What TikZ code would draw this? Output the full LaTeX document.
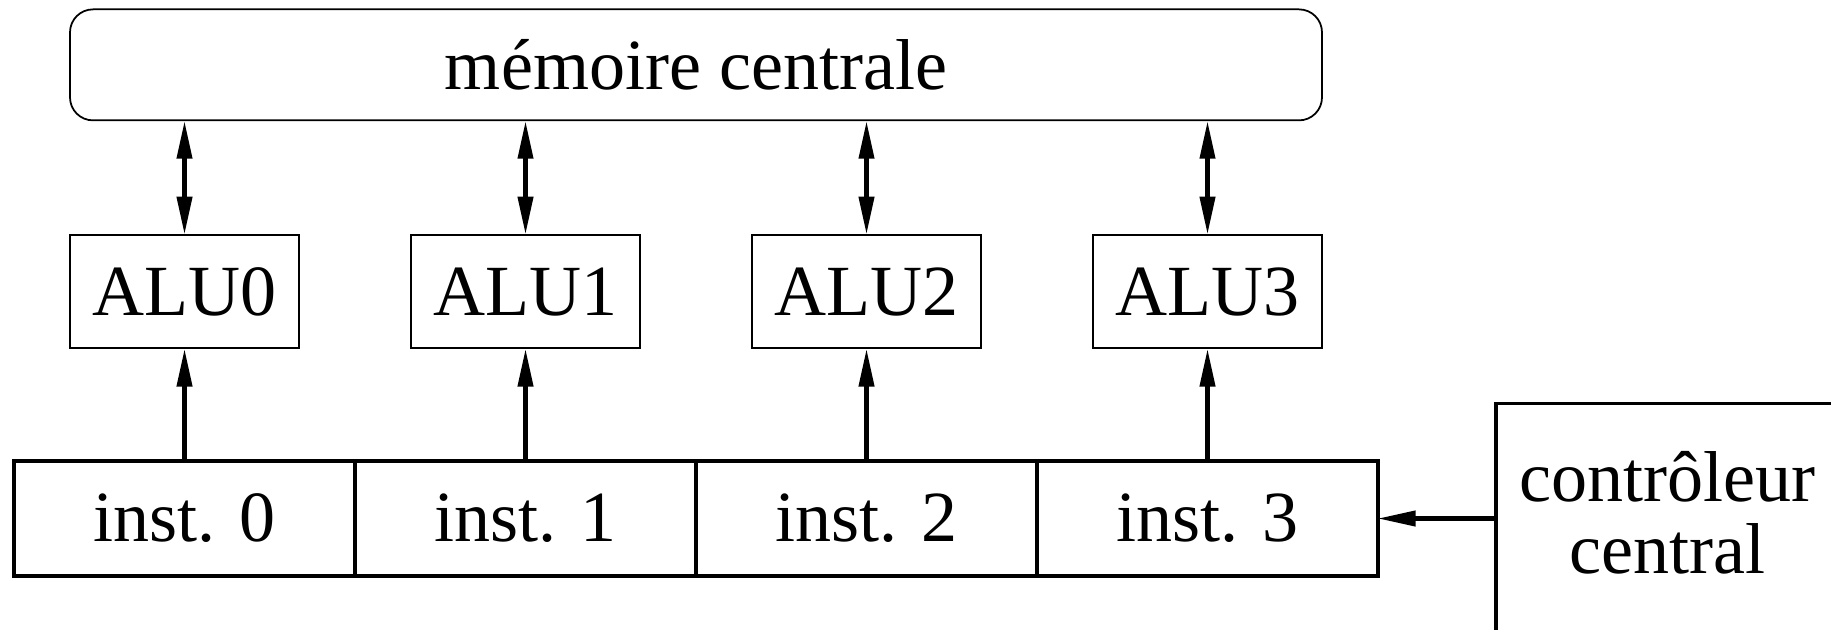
\documentclass[tikz,border=0pt]{standalone}
\usepackage{fontspec}
\setmainfont{LiberationSerif}[Extension=.ttf, UprightFont=*-Regular, BoldFont=*-Bold, ItalicFont=*-Italic]
\usepackage{tikz}
\usetikzlibrary{calc}
\usetikzlibrary{positioning}
\usetikzlibrary{arrows.meta}
\tikzstyle{inst} = [draw, line width=2pt, rectangle, inner sep=0pt, outer sep=0pt, minimum width=6.82cm, minimum height=2.3cm]
\tikzstyle{alu} = [draw, line width=1pt, rectangle, inner sep=0pt, minimum width=4.58cm, minimum height=2.26cm]
\tikzstyle{mem} = [draw, line width=1pt, rectangle, rounded corners=0.46cm, inner sep=0pt, minimum width=25.04cm, minimum height=2.22cm]
\tikzstyle{ctrl} = [draw, line width=2pt, rectangle, align=center, inner sep=0pt, text depth=0.24cm, minimum width=6.88cm, minimum height=4.6cm]
\tikzstyle{fleche} = [line width=2.3pt]

\begin{document}
\begin{tikzpicture}[>={Triangle[length=0.75cm,width=0.3cm]}, font=\rmfamily\fontsize{41}{41}\selectfont]
                        \clip (0,0) rectangle (36.62,-12.58);

                        \node[inst](inst0) at (3.69,-10.37) {inst. 0};
                        \node[inst,right=0cm of inst0](inst1) {inst. 1};
                        \node[inst,right=0cm of inst1](inst2) {inst. 2};
                        \node[inst,right=0cm of inst2](inst3) {inst. 3};

                        \node[alu,above=2.24cm of inst0](alu0) {ALU0};
                        \node[alu,above=2.24cm of inst1](alu1) {ALU1};
                        \node[alu,above=2.24cm of inst2](alu2) {ALU2};
                        \node[alu,above=2.24cm of inst3](alu3) {ALU3};

                        \coordinate (milieu) at ($(alu1.north)!0.5!(alu2.north)$);
                        \node[mem,above=2.26cm of milieu](mem) {mémoire centrale};

                        \node[ctrl,right=2.32cm of inst3](ctrl) {contrôleur\\central};

                        \foreach \i in {0,...,3} {
                            \draw[fleche,->](inst\i.north) -- (alu\i.south);
                            \draw[fleche,<->](alu\i.north |- mem.south) -- (alu\i.north);
                        }
                        \draw[fleche,->](ctrl.west) -- (inst3.east);
                    \end{tikzpicture}
\end{document}
